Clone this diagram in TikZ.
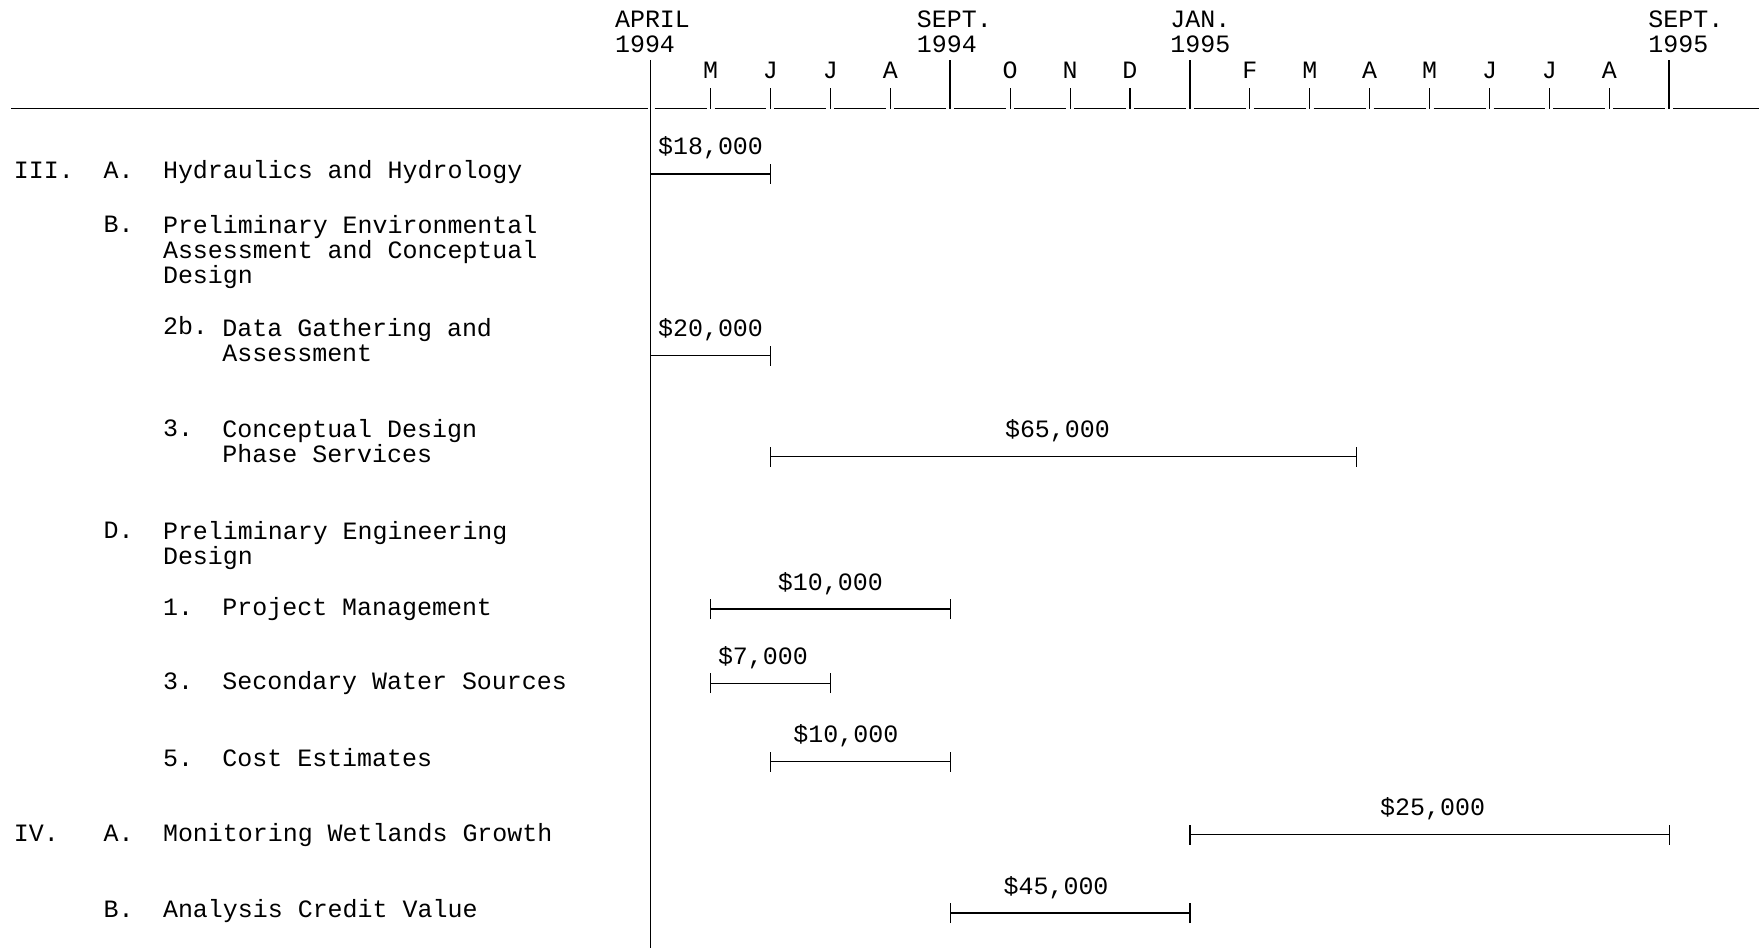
\documentclass[tikz,border=0pt]{standalone}
\usepackage{fontspec}
\setmonofont{Liberation Mono}
\tikzset{
  font=\ttfamily\fontsize{14.2}{14.1}\selectfont,
  item/.style ={anchor=base west, inner sep=0pt, align=left},
  hdr/.style  ={anchor=base west, inner sep=0pt, align=left},
  mon/.style  ={anchor=base, inner sep=0pt},
  amt/.style  ={anchor=base, inner sep=0pt, yshift=3.8mm},
  rule/.style ={line width=0.6pt},
  axis/.style ={line width=0.9pt},
  bar/.style  ={line width=0.7pt},
}
\begin{document}
\begin{tikzpicture}[x=0.2mm, y=-0.2mm]
  \useasboundingbox (0,0) rectangle (1759,948);
  % month grid
  \foreach \i in {0,...,17}
    \coordinate (m\i) at ({650.6+59.92*\i},108.8);
  \coordinate (lft) at (11,108.8);
  \coordinate (rgt) at (1759,108.8);
  \coordinate (bot) at (0,948);
  % typed base rule ___|___|___
  \draw[rule] (lft) -- ([xshift=-0.6mm]m0);
  \foreach \i [evaluate=\i as \j using int(\i+1)] in {0,...,16}
    \draw[rule] ([xshift=0.8mm]m\i) -- ([xshift=-0.8mm]m\j);
  \draw[rule] ([xshift=0.8mm]m17) -- (rgt);
  % quarter marks and months
  \draw[axis] (m0) ++(0,-49) -- (m0 |- bot);
  \foreach \i in {5,9,17}
    \draw[axis] (m\i) -- ++(0,-49);
  \foreach \i/\l in {1/M,2/J,3/J,4/A,6/O,7/N,8/D,10/F,11/M,12/A,13/M,14/J,15/J,16/A} {
    \draw[rule] (m\i) -- ++(0,-21);
    \path (m\i) ++(0,-30.8) node[mon] (l\i) {\l};
  }
  % multi-line nodes sit on the base of their last line
  \node[hdr] (hApr)  at (614.7,52) {APRIL\\1994};
  \node[hdr] (hSep)  at (916.5,52) {SEPT.\\1994};
  \node[hdr] (hJan)  at (1170,52)  {JAN.\\1995};
  \node[hdr] (hSepb) at (1648,52)  {SEPT.\\1995};
  % tasks
  \node[item] (nIII)  at (13.5,178.6)  {III.};
  \node[item] (nIIIa) at (103.2,178.6) {A.};
  \node[item] (tIIIa) at (162.7,178.6) {Hydraulics and Hydrology};
  \node[item] (nIIIb) at (103.2,232.5) {B.};
  \node[item] (tIIIb) at (162.7,283)   {Preliminary Environmental\\Assessment and Conceptual\\Design};
  \node[item] (nB2b)  at (162.7,334.6) {2b.};
  \node[item] (tB2b)  at (222.1,361.5) {Data Gathering and\\Assessment};
  \node[item] (nB3)   at (162.7,436.6) {3.};
  \node[item] (tB3)   at (222.1,462.5) {Conceptual Design\\Phase Services};
  \node[item] (nIIId) at (103.2,538.7) {D.};
  \node[item] (tIIId) at (162.7,564.5) {Preliminary Engineering\\Design};
  \node[item] (nD1)   at (162.7,615)   {1.};
  \node[item] (tD1)   at (222.1,615)   {Project Management};
  \node[item] (nD3)   at (162.7,689)   {3.};
  \node[item] (tD3)   at (222.1,689)   {Secondary Water Sources};
  \node[item] (nD5)   at (162.7,766.5) {5.};
  \node[item] (tD5)   at (222.1,766.5) {Cost Estimates};
  \node[item] (nIV)   at (13.5,841.6)  {IV.};
  \node[item] (nIVa)  at (103.2,841.6) {A.};
  \node[item] (tIVa)  at (162.7,841.6) {Monitoring Wetlands Growth};
  \node[item] (nIVb)  at (103.2,917.9) {B.};
  \node[item] (tIVb)  at (162.7,917.9) {Analysis Credit Value};
  % bars: start/end in months after April 1994
  \foreach \n/\y/\s/\e/\amt/\dx in {
      a/173.9/0/2/{\$18,000}/0,
      b/355.6/0/2/{\$20,000}/0,
      c/456.6/2/11.78/{\$65,000}/-1.2,
      d/609.1/1/5/{\$10,000}/0,
      e/683.2/1/3/{\$7,000}/-1.5,
      f/761.7/2/5/{\$10,000}/-2.9,
      g/834.6/9/17/{\$25,000}/0.6,
      h/913.1/5/9/{\$45,000}/-2.8} {
    \coordinate (s\n) at ({650.6+59.92*\s},\y);
    \coordinate (e\n) at ({650.6+59.92*\e},\y);
    \draw[bar] (s\n) -- node[amt, xshift=\dx mm] (c\n) {\amt} (e\n);
    \draw[bar] ([yshift=-2mm]s\n) -- ([yshift=2mm]s\n);
    \draw[bar] ([yshift=-2mm]e\n) -- ([yshift=2mm]e\n);
  }
\end{tikzpicture}
\end{document}
